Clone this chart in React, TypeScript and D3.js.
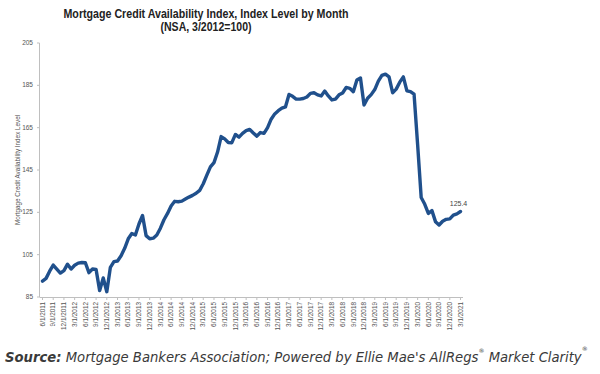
import * as d3 from "d3"

// monthly MCAI values, 6/2011 .. 3/2021
const values = [
  92.5, 93.8, 97.2, 100.1, 98.2, 96.3, 97.5, 100.5, 98.2, 100, 101, 101.3,
  101.2, 96.5, 98.2, 98, 88, 94, 87.5, 99, 101.7, 102, 104.5, 108,
  112.5, 115, 114.3, 119.5, 123.5, 114, 112.5, 112.8, 114.3, 117.5, 121.5, 124.5,
  128, 130.2, 130, 130.3, 131.3, 132.2, 133, 134, 135.4, 138.5, 142.6, 146.5,
  148.5, 153.5, 160.8, 159.7, 158, 157.9, 161.8, 160.5, 162.3, 163.6, 164.2, 162.5,
  161, 162.7, 162.3, 165, 169, 171.5, 173, 174.2, 174.8, 180.7, 179.8, 178.5,
  178.5, 178.8, 179.5, 181.2, 181.5, 180.5, 180, 182.3, 180, 178.1, 178.5, 180.5,
  181.4, 184, 183.6, 182, 187.5, 188.5, 175.7, 178.9, 180.6, 183, 187, 189.7,
  190.3, 189, 181.5, 183.2, 186.5, 189, 182.4, 182, 180.8, 157, 132, 128.8,
  124.5, 125.8, 120.6, 119, 120.8, 121.7, 121.9, 123.7, 124.3, 125.4
]

const tickLabels = [
  "6/1/2011", "9/1/2011", "12/1/2011", "3/1/2012", "6/1/2012", "9/1/2012", "12/1/2012",
  "3/1/2013", "6/1/2013", "9/1/2013", "12/1/2013", "3/1/2014", "6/1/2014", "9/1/2014",
  "12/1/2014", "3/1/2015", "6/1/2015", "9/1/2015", "12/1/2015", "3/1/2016", "6/1/2016",
  "9/1/2016", "12/1/2016", "3/1/2017", "6/1/2017", "9/1/2017", "12/1/2017", "3/1/2018",
  "6/1/2018", "9/1/2018", "12/1/2018", "3/1/2019", "6/1/2019", "9/1/2019", "12/1/2019",
  "3/1/2020", "6/1/2020", "9/1/2020", "12/1/2020", "3/1/2021"
]

const yTicks = [85, 105, 125, 145, 165, 185, 205]

const lastLabel = "125.4"

export default function App() {
  const width = 600, height = 374

  // month index -> x ; one label every 3 months
  const x = d3.scaleLinear().domain([0, values.length - 1]).range([42.5, 460.5])
  const y = d3.scaleLinear().domain([85, 205]).range([297, 43])

  const line = d3.line<number>()
    .x((d, i) => x(i))
    .y(d => y(d))

  const axisColor = "#bfbfbf"
  const labelFont = "'Liberation Sans', Arial, sans-serif"
  const lastI = values.length - 1

  return (
    <svg width={width} height={height}
      style={{ position: "absolute", left: 0, top: 0, background: "#fff" }}>

      {/* title */}
      <text x={206} y={18} textAnchor="middle" fontFamily={labelFont}
        fontWeight="bold" fontSize={12.5} fill="#222"
        textLength={285} lengthAdjust="spacingAndGlyphs">
        Mortgage Credit Availability Index, Index Level by Month
      </text>
      <text x={206} y={31} textAnchor="middle" fontFamily={labelFont}
        fontWeight="bold" fontSize={12.5} fill="#222"
        textLength={91} lengthAdjust="spacingAndGlyphs">
        (NSA, 3/2012=100)
      </text>

      {/* y axis */}
      <line x1={39.5} x2={39.5} y1={y(205)} y2={y(85)} stroke={axisColor} />
      {yTicks.map(t => (
        <g key={t}>
          <line x1={37} x2={39.5} y1={y(t)} y2={y(t)} stroke={axisColor} />
          <text x={33} y={y(t) + 2} textAnchor="end" fontFamily={labelFont}
            fontSize={6.5} fill="#555">{t}</text>
        </g>
      ))}
      <text transform={`translate(20,170) rotate(-90)`} textAnchor="middle"
        fontFamily={labelFont} fontSize={6.3} fill="#555">
        Mortgage Credit Availability Index Level
      </text>

      {/* x axis */}
      <line x1={39.5} x2={463} y1={y(85) + 0.5} y2={y(85) + 0.5} stroke={axisColor} />
      {tickLabels.map((lab, k) => {
        const xx = x(k * 3)
        return (
          <g key={lab}>
            <line x1={xx} x2={xx} y1={y(85)} y2={y(85) + 3} stroke={axisColor} />
            <text transform={`translate(${xx + 2.2},${y(85) + 5}) rotate(-90)`}
              textAnchor="end" fontFamily={labelFont} fontSize={6.4} fill="#555">
              {lab}
            </text>
          </g>
        )
      })}

      {/* the series */}
      <path d={line(values) || ""} fill="none" stroke="#20508c" strokeWidth={3.4}
        strokeLinejoin="round" strokeLinecap="round" />
      <text x={x(lastI) - 2} y={y(values[lastI]) - 5} textAnchor="middle"
        fontFamily={labelFont} fontSize={7} fill="#444">{lastLabel}</text>

      {/* source line */}
      <text x={5} y={362} fontFamily="'DejaVu Sans', sans-serif" fontStyle="italic"
        fontSize={13.2} fill="#3a3a3a">
        <tspan fontWeight="bold">Source:</tspan>
        <tspan> Mortgage Bankers Association; Powered by Ellie Mae's AllRegs</tspan>
        <tspan fontSize={6} dy={-9}>®</tspan>
        <tspan dy={9}> Market Clarity</tspan>
        <tspan fontSize={6} dy={-11}>®</tspan>
      </text>
    </svg>
  )
}
